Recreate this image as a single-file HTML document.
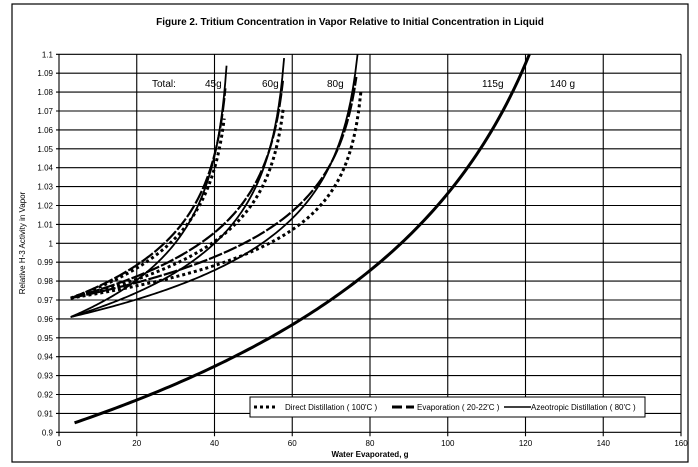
<!DOCTYPE html>
<html><head><meta charset="utf-8"><style>
html,body{margin:0;padding:0;background:#fff;}
svg{display:block;font-family:"Liberation Sans",Arial,sans-serif;}
</style></head><body>
<svg id="c" width="698" height="467" viewBox="0 0 698 467" xmlns="http://www.w3.org/2000/svg">
<rect x="12" y="4" width="676" height="458" fill="#fff" stroke="#000" stroke-width="1.2"/>
<text x="350" y="25" font-size="10" font-weight="bold" text-anchor="middle">Figure 2. Tritium Concentration in Vapor Relative to Initial Concentration in Liquid</text>
<g id="grid"></g>
<g id="curves"></g>
<text x="152" y="87" font-size="10">Total:</text>
<text x="205" y="87" font-size="10">45g</text>
<text x="262" y="87" font-size="10">60g</text>
<text x="327" y="87" font-size="10">80g</text>
<text x="482" y="87" font-size="10">115g</text>
<text x="550" y="87" font-size="10">140 g</text>
<text x="370" y="457" font-size="8" font-weight="bold" text-anchor="middle">Water Evaporated, g</text>
<text transform="translate(25,243) rotate(-90)" font-size="8" text-anchor="middle">Relative H-3 Activity in Vapor</text>
<rect x="250" y="397" width="395" height="20" fill="#fff" stroke="#000" stroke-width="1"/>
<line x1="254" y1="407" x2="275" y2="407" stroke="#000" stroke-width="3" stroke-dasharray="3,3"/>
<text x="285" y="410" font-size="8">Direct Distillation ( 100'C )</text>
<line x1="392" y1="407" x2="414" y2="407" stroke="#000" stroke-width="3" stroke-dasharray="10,4"/>
<text x="417" y="410" font-size="8">Evaporation ( 20-22'C )</text>
<line x1="504" y1="407" x2="531" y2="407" stroke="#000" stroke-width="1.5"/>
<text x="531" y="410" font-size="8">Azeotropic Distillation ( 80'C )</text>
</svg>
<script>
var NS="http://www.w3.org/2000/svg";
function X(g){return 59+g*3.8875;}
function Y(v){return 54.3+(1.1-v)*1890;}
var g=document.getElementById("grid"),cv=document.getElementById("curves");
function el(p,t,a){var e=document.createElementNS(NS,t);for(var k in a)e.setAttribute(k,a[k]);p.appendChild(e);return e;}
for(var i=0;i<=20;i++){var v=0.9+i*0.01,y=Y(v);
 el(g,"line",{x1:56,y1:y,x2:681,y2:y,stroke:"#000","stroke-width":1.1});
 var t=el(g,"text",{x:53,y:y+3,"font-size":"8","text-anchor":"end"});t.textContent=(Math.round(v*100)/100).toString();}
for(var j=0;j<=8;j++){var x=X(j*20);
 el(g,"line",{x1:x,y1:Y(1.1),x2:x,y2:Y(0.9)+4,stroke:"#000","stroke-width":1.1});
 var t=el(g,"text",{x:x,y:446,"font-size":"8","text-anchor":"middle"});t.textContent=j*20;}
function curve(x0,y0,x1,y1,L,attrs){
 var f0=1-x0/L,f1=1-x1/L,k=Math.log(y1/y0)/Math.log(f0/f1),d="";
 for(var i=0;i<=120;i++){var x=x0+(x1-x0)*i/120,y=y0*Math.pow(f0/(1-x/L),k);
  d+=(i?"L":"M")+X(x).toFixed(2)+","+Y(y).toFixed(2);}
 attrs.d=d;attrs.fill="none";attrs.stroke="#000";el(cv,"path",attrs);}
var groups=[[43.1,1.094,42.5,1.066,44.5],[57.9,1.098,57.7,1.0715,59.5],[76.8,1.1,77.7,1.081,79]];
groups.forEach(function(q){
 curve(3,0.961,q[0],q[1],q[4],{"stroke-width":1.8});
 curve(3,0.971,q[2],q[3],q[4],{"stroke-width":3,"stroke-dasharray":"3,3"});
 curve(3,0.971,q[0]-0.3,q[1]-0.012,q[4],{"stroke-width":2.2,"stroke-dasharray":"14,2"});
});
curve(4,0.905,121,1.1,145,{"stroke-width":3});
</script>
</body></html>
